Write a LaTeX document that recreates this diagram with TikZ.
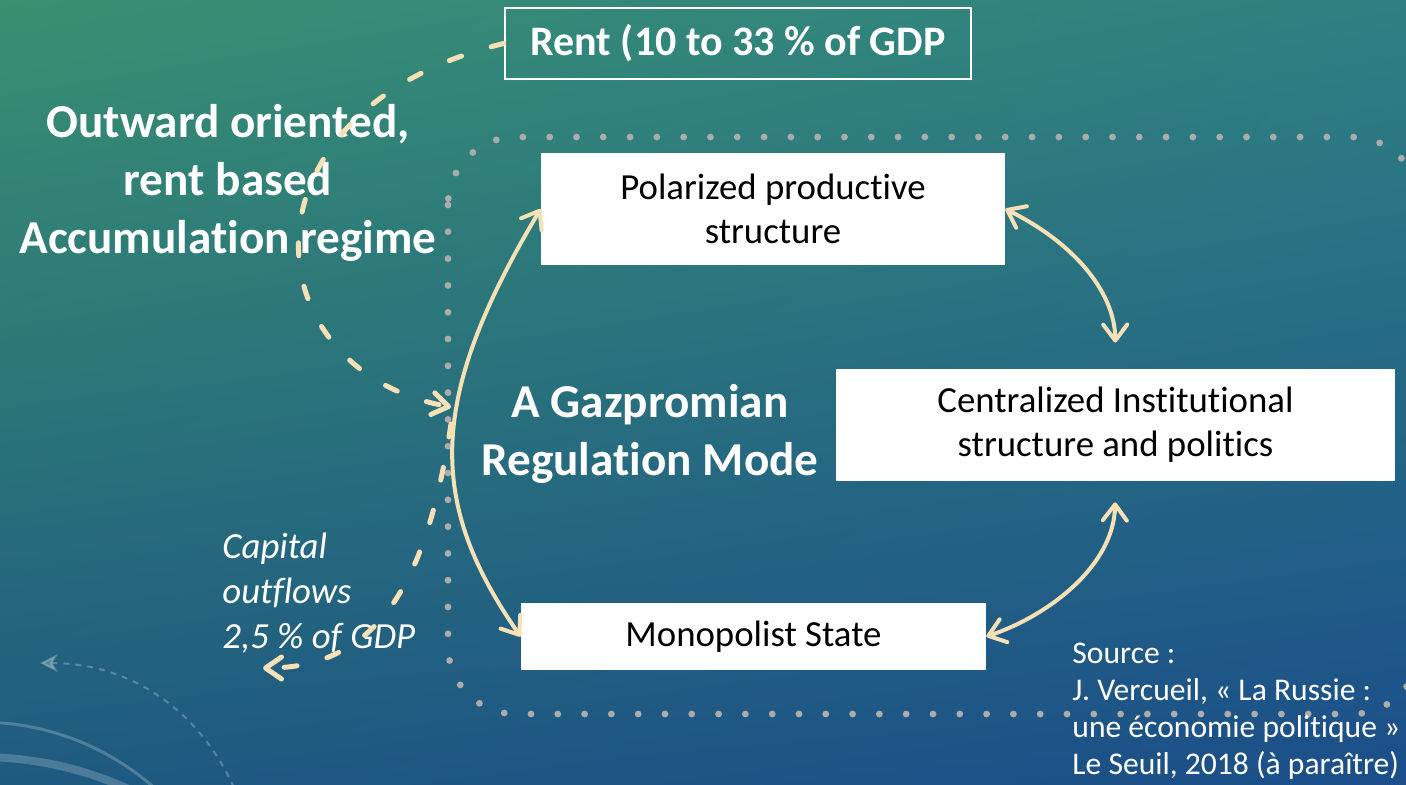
\documentclass[tikz,border=0pt]{standalone}
\usepackage{fontspec}
\setmainfont{Carlito}[RawFeature={-liga}]
\usepackage{xcolor}
\usepackage{tikz}
\usetikzlibrary{arrows.meta, positioning, calc, shadings}
\definecolor{SlideGreen}{RGB}{56,144,112}
\definecolor{SlideTeal}{RGB}{46,128,130}
\definecolor{SlideDeep}{RGB}{30,90,128}
\definecolor{SlideBlue}{RGB}{27,78,138}
\definecolor{Cream}{RGB}{246,224,181}
\definecolor{DotGray}{RGB}{172,172,172}
\tikzset{
    % White box of the regulation loop
    loopbox/.style={rectangle, fill=white, text=black, align=center, inner sep=0pt,
        font=\fontsize{18.4}{22}\selectfont},
    % Outlined box on the slide background
    rentbox/.style={rectangle, draw=white, line width=1.3pt, text=white, inner sep=0pt,
        minimum width=233pt, minimum height=35.5pt, font=\bfseries\fontsize{21}{25}\selectfont},
    % Bold white heading
    headline/.style={text=white, align=center, inner sep=0pt,
        font=\bfseries\fontsize{23.6}{29}\selectfont},
    % Italic side note
    sidenote/.style={text=white, align=left, inner sep=0pt,
        font=\itshape\fontsize{18.4}{22.5}\selectfont},
    % Reference note
    refnote/.style={text=white, align=left, inner sep=0pt,
        font=\fontsize{15.8}{18.5}\selectfont},
    % Dotted frame round the loop
    dotframe/.style={draw=DotGray, line width=3.4pt, line cap=round,
        dash pattern=on 0pt off 13.4pt, rounded corners=34pt},
    % Solid two-headed loop arrow
    loopboth/.style={<->, >={Straight Barb[length=8pt, width=12pt, round]},
        line width=2pt, draw=Cream},
    % Dashed rent flow
    rentflow/.style={-{Straight Barb[length=8pt, width=11pt, round]},
        line width=2.5pt, draw=Cream, line cap=round, dash pattern=on 6.5pt off 15.5pt},
}

\begin{document}
\begin{tikzpicture}[x=0.5pt, y=-0.5pt]
    \useasboundingbox (0,0) rectangle (1406,784);
    \shade[upper left=SlideGreen, upper right=SlideTeal, lower left=SlideDeep, lower right=SlideBlue]
        (0,0) rectangle (1406,784);
    % theme ornaments, lower left
    \draw[white, opacity=0.22, line width=1.5pt] (-20,986) circle[radius=132pt];
    \draw[white, opacity=0.2, line width=4pt] (-20,1117) circle[radius=180pt];
    \draw[white, opacity=0.25, line width=1pt, dashed, {Stealth[length=9pt, width=9pt]}-]
        (40,663) .. controls (130,663) and (200,710) .. (235,790);

    \draw[dotframe] (448,137) rectangle (1420,714);

    \node[headline] (regime) at (228,183) {Outward oriented,\\rent based\\Accumulation regime};
    \node[rentbox] (rent) at (738,43.5) {Rent (10 to 33 \% of GDP};
    \node[headline] (mode) at (650,434) {A Gazpromian\\Regulation Mode};
    \node[loopbox, minimum width=232pt, minimum height=56pt] (poly) at (773,209) {Polarized productive\\structure};
    \node[loopbox, minimum width=279.5pt, minimum height=56pt] (cent) at (1115.5,425) {Centralized Institutional\\structure and politics};
    \node[loopbox, minimum width=232.5pt, minimum height=33.5pt] (mono) at (753.5,636.5) {Monopolist State};
    \node[sidenote, anchor=west] (outflow) at (222,593) {Capital\\outflows\\2,5 \% of GDP};
    \node[refnote, anchor=west] (source) at (1072,711) {Source :\\J. Vercueil, « La Russie :\\une économie politique »\\Le Seuil, 2018 (à paraître)};

    \coordinate (inflow) at (451,407);
    \coordinate (leak) at (451,424);
    \coordinate (abroad) at (263,668);

    \draw[loopboth] (poly.west) .. controls (427,399) and (427,502) .. (mono.west);
    \draw[loopboth, shorten >=13pt] (poly.east) .. controls (1078,245) and (1115,295) .. (cent.north);
    \draw[loopboth, shorten <=10.5pt] (cent.south) .. controls (1114,565) and (1050,615) .. (mono.east);

    \draw[rentflow] (rent.west) .. controls (230,110) and (250,370) .. (inflow);
    \draw[rentflow] (leak) .. controls (430,560) and (390,668) .. (abroad);
\end{tikzpicture}
\end{document}
